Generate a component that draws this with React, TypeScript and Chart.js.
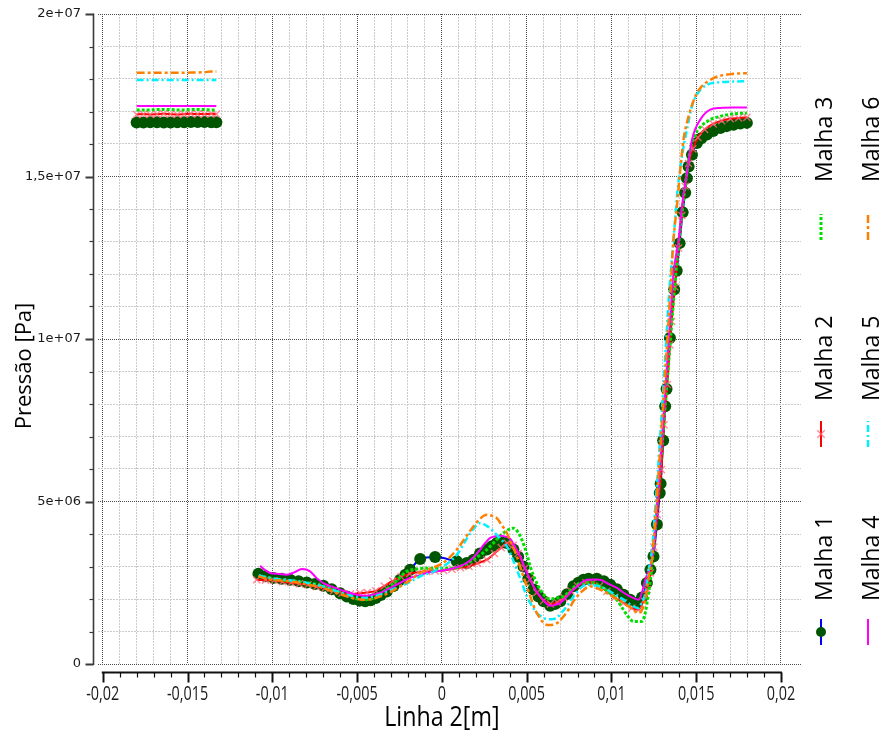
import React, { useEffect, useRef } from "react";
import { Chart, registerables } from "chart.js";

Chart.register(...registerables);

// Position along "Linha 2" in mm, pressure in MPa (converted to m / Pa when the datasets are built)
const upstreamX = [-18.0, -17.6, -17.2, -16.8, -16.4, -16.0, -15.6, -15.2, -14.8, -14.4, -14.0, -13.6, -13.3];

const malha1Up = [16.66, 16.66, 16.67, 16.67, 16.66, 16.66, 16.67, 16.67, 16.68, 16.68, 16.68, 16.67, 16.67];
const malha2Up = [16.91, 16.92, 16.91, 16.92, 16.93, 16.92, 16.91, 16.92, 16.93, 16.92, 16.92, 16.93, 16.92];
const malha3Up = [17.05, 17.05, 17.05, 17.06, 17.06, 17.06, 17.05, 17.05, 17.06, 17.06, 17.06, 17.05, 17.05];
const malha4Up = [17.17, 17.17, 17.17, 17.17, 17.17, 17.17, 17.17, 17.17, 17.17, 17.17, 17.17, 17.17, 17.17];
const malha5Up = [17.97, 17.97, 17.97, 17.97, 17.97, 17.97, 17.97, 17.97, 17.97, 17.97, 17.97, 17.97, 17.97];
const malha6Up = [18.19, 18.19, 18.19, 18.19, 18.19, 18.19, 18.19, 18.19, 18.2, 18.2, 18.21, 18.23, 18.23];

const malha1X = [-10.82, -10.4, -9.94, -9.45, -8.95, -8.45, -7.97, -7.48, -6.99, -6.5, -6.0, -5.6, -5.22, -4.85, -4.52, -4.2, -3.9, -3.6, -3.25, -2.85, -2.46, -2.15, -1.87, -1.28, -0.4, 0.88, 1.47, 1.86, 2.25, 2.65, 2.95, 3.24, 3.55, 3.83, 4.22, 4.5, 4.81, 5.1, 5.4, 5.7, 6.0, 6.39, 6.7, 6.98, 7.38, 7.76, 8.05, 8.35, 8.65, 9.14, 9.55, 9.93, 10.32, 10.71, 11.1, 11.5, 11.8, 12.09, 12.3, 12.48, 12.68, 12.85, 12.9, 13.05, 13.17, 13.25, 13.45, 13.7, 13.85, 14.02, 14.2, 14.35, 14.45, 14.55, 14.75, 15.04, 15.3, 15.63, 16.0, 16.42, 16.8, 17.2, 17.6, 17.99];
const malha1P = [2.78, 2.7, 2.65, 2.62, 2.59, 2.55, 2.51, 2.46, 2.41, 2.3, 2.18, 2.08, 2.0, 1.95, 1.93, 1.96, 2.03, 2.12, 2.23, 2.4, 2.59, 2.75, 2.9, 3.23, 3.29, 3.16, 3.11, 3.21, 3.4, 3.52, 3.62, 3.72, 3.74, 3.72, 3.52, 3.3, 3.0, 2.62, 2.29, 2.08, 1.93, 1.79, 1.85, 1.93, 2.15, 2.39, 2.5, 2.59, 2.62, 2.62, 2.55, 2.44, 2.3, 2.13, 1.98, 1.88, 2.05, 2.49, 2.9, 3.31, 4.29, 5.26, 5.55, 6.88, 7.93, 8.46, 10.03, 11.52, 12.1, 12.95, 13.9, 14.5, 14.95, 15.31, 15.67, 16.03, 16.18, 16.29, 16.4, 16.49, 16.55, 16.59, 16.63, 16.65];

const malha2X = [-10.92, -10.4, -9.9, -9.4, -8.9, -8.4, -7.9, -7.4, -6.9, -6.4, -5.9, -5.4, -4.83, -4.4, -3.9, -3.4, -2.9, -2.4, -1.9, -1.4, -0.9, -0.4, 0.1, 0.6, 1.1, 1.6, 2.1, 2.65, 3.1, 3.5, 3.85, 4.2, 4.5, 4.9, 5.2, 5.6, 6.0, 6.4, 6.8, 7.2, 7.6, 8.0, 8.5, 8.9, 9.3, 9.73, 10.2, 10.71, 11.2, 11.6, 11.9, 12.1, 12.3, 12.5, 12.7, 12.95, 13.1, 13.3, 13.45, 13.55, 13.75, 13.95, 14.15, 14.35, 14.55, 14.8, 15.1, 15.5, 16.0, 16.5, 17.0, 17.5, 17.99];
const malha2P = [2.59, 2.58, 2.57, 2.53, 2.5, 2.47, 2.44, 2.38, 2.33, 2.25, 2.18, 2.15, 2.18, 2.2, 2.25, 2.4, 2.55, 2.68, 2.78, 2.82, 2.85, 2.86, 2.88, 2.92, 2.96, 3.0, 3.1, 3.21, 3.4, 3.58, 3.72, 3.65, 3.4, 2.95, 2.6, 2.2, 1.95, 1.85, 1.9, 2.05, 2.25, 2.4, 2.5, 2.5, 2.4, 2.23, 2.05, 1.88, 1.72, 1.67, 1.95, 2.29, 2.8, 3.6, 4.6, 5.98, 7.36, 8.6, 9.82, 10.54, 11.6, 12.8, 13.8, 14.7, 15.4, 15.85, 16.2, 16.45, 16.62, 16.72, 16.78, 16.8, 16.82];

const malha3X = [-10.8, -10.0, -9.0, -8.0, -7.0, -6.0, -5.2, -4.6, -4.0, -3.4, -2.8, -2.07, -1.5, -0.89, 0.0, 0.68, 1.3, 1.86, 2.5, 3.04, 3.63, 4.22, 4.5, 4.72, 5.0, 5.21, 5.5, 5.8, 6.1, 6.39, 6.8, 7.17, 7.6, 7.96, 8.45, 8.94, 9.45, 9.93, 10.35, 10.71, 11.0, 11.3, 11.8, 12.19, 12.48, 12.7, 12.9, 13.1, 13.3, 13.5, 13.7, 13.9, 14.1, 14.3, 14.45, 14.65, 14.94, 15.24, 15.83, 16.42, 17.2, 17.99];
const malha3P = [2.72, 2.62, 2.57, 2.5, 2.4, 2.2, 2.03, 1.98, 2.03, 2.25, 2.5, 2.85, 2.92, 2.95, 2.95, 2.95, 3.05, 3.21, 3.45, 3.72, 4.03, 4.18, 4.05, 3.82, 3.4, 3.0, 2.6, 2.29, 2.08, 2.0, 2.03, 2.08, 2.28, 2.44, 2.5, 2.49, 2.35, 2.18, 1.95, 1.67, 1.45, 1.31, 1.31, 2.18, 3.52, 4.9, 6.2, 7.5, 8.8, 10.1, 11.4, 12.6, 13.6, 14.5, 15.1, 15.83, 16.29, 16.52, 16.75, 16.85, 16.93, 16.95];

const malha4X = [-10.72, -10.4, -10.13, -9.6, -9.15, -8.7, -8.26, -7.77, -7.4, -6.99, -6.5, -6.0, -5.5, -5.02, -4.5, -4.04, -3.5, -3.05, -2.45, -1.87, -1.4, -0.89, -0.3, 0.29, 0.9, 1.47, 1.9, 2.26, 2.55, 2.85, 3.15, 3.44, 3.75, 4.03, 4.3, 4.62, 4.9, 5.21, 5.5, 5.8, 6.1, 6.39, 6.7, 6.98, 7.38, 7.76, 8.15, 8.55, 8.95, 9.33, 9.8, 10.32, 10.7, 11.1, 11.6, 12.0, 12.48, 12.7, 12.9, 13.1, 13.3, 13.5, 13.66, 13.96, 14.16, 14.45, 14.75, 15.24, 15.83, 16.42, 17.2, 17.99];
const malha4P = [3.02, 2.88, 2.8, 2.77, 2.75, 2.82, 2.92, 2.85, 2.65, 2.49, 2.38, 2.29, 2.2, 2.13, 2.1, 2.13, 2.22, 2.34, 2.5, 2.65, 2.72, 2.8, 2.85, 2.9, 2.98, 3.11, 3.3, 3.52, 3.72, 3.88, 3.93, 3.95, 3.92, 3.85, 3.62, 3.31, 2.95, 2.59, 2.3, 2.08, 1.9, 1.79, 1.82, 1.88, 2.08, 2.29, 2.47, 2.59, 2.6, 2.59, 2.47, 2.34, 2.2, 2.08, 1.98, 2.59, 3.52, 4.9, 6.3, 7.8, 9.4, 10.9, 12.03, 13.05, 14.08, 15.1, 16.13, 16.75, 17.06, 17.11, 17.12, 17.12];

const malha5X = [-10.8, -10.0, -9.0, -8.0, -7.0, -6.0, -5.2, -4.62, -4.0, -3.64, -3.0, -2.46, -1.8, -1.28, -0.6, -0.1, 0.4, 0.88, 1.4, 1.85, 2.25, 2.65, 3.04, 3.45, 3.83, 4.12, 4.42, 4.72, 5.01, 5.3, 5.59, 5.9, 6.19, 6.5, 6.77, 7.06, 7.36, 7.8, 8.2, 8.55, 8.95, 9.35, 9.73, 10.2, 10.71, 11.2, 11.6, 11.8, 12.0, 12.2, 12.39, 12.6, 12.8, 13.0, 13.2, 13.4, 13.66, 13.9, 14.16, 14.45, 14.75, 15.04, 15.63, 16.42, 17.2, 17.99];
const malha5P = [2.72, 2.64, 2.58, 2.5, 2.38, 2.2, 2.08, 2.03, 2.08, 2.13, 2.28, 2.39, 2.55, 2.7, 2.82, 2.95, 3.12, 3.36, 3.8, 4.15, 4.34, 4.25, 4.08, 3.85, 3.62, 3.3, 2.9, 2.5, 2.08, 1.8, 1.57, 1.45, 1.38, 1.38, 1.42, 1.58, 1.77, 2.1, 2.35, 2.44, 2.42, 2.38, 2.29, 2.14, 1.98, 1.8, 1.72, 1.9, 2.18, 2.9, 3.52, 4.9, 6.4, 8.0, 9.7, 11.4, 13.05, 14.59, 15.62, 16.44, 17.16, 17.52, 17.82, 17.9, 17.92, 17.93];

const malha6X = [-10.82, -10.2, -9.5, -8.95, -8.0, -6.99, -6.3, -5.6, -5.0, -4.62, -4.1, -3.64, -3.0, -2.46, -1.8, -1.28, -0.6, -0.1, 0.4, 0.88, 1.4, 1.86, 2.25, 2.65, 3.0, 3.24, 3.5, 3.83, 4.1, 4.42, 4.7, 5.01, 5.3, 5.5, 5.8, 6.0, 6.3, 6.58, 6.9, 7.17, 7.5, 7.76, 8.2, 8.75, 9.2, 9.73, 10.2, 10.71, 11.2, 11.6, 12.0, 12.2, 12.39, 12.55, 12.7, 12.9, 13.1, 13.3, 13.47, 13.66, 13.86, 14.06, 14.25, 14.55, 14.94, 15.24, 16.02, 17.01, 17.99];
const malha6P = [2.7, 2.6, 2.57, 2.54, 2.45, 2.34, 2.2, 2.08, 2.0, 1.98, 2.0, 2.08, 2.22, 2.39, 2.6, 2.8, 2.95, 3.06, 3.25, 3.52, 3.9, 4.23, 4.47, 4.59, 4.55, 4.49, 4.3, 4.03, 3.7, 3.31, 2.85, 2.39, 1.95, 1.67, 1.4, 1.26, 1.2, 1.21, 1.3, 1.46, 1.7, 1.93, 2.2, 2.39, 2.32, 2.18, 2.03, 1.88, 1.7, 1.57, 1.98, 2.7, 3.21, 4.2, 5.3, 6.8, 8.4, 10.0, 11.4, 13.05, 14.08, 15.21, 16.13, 16.85, 17.46, 17.72, 18.03, 18.15, 18.18];

const seriesNames = ["Malha 1", "Malha 2", "Malha 3", "Malha 4", "Malha 5", "Malha 6"];

const xTickValues = [-0.02, -0.015, -0.01, -0.005, 0, 0.005, 0.01, 0.015, 0.02];
const xTickLabels = ["-0,02", "-0,015", "-0,01", "-0,005", "0", "0,005", "0,01", "0,015", "0,02"];
const yTickValues = [0, 5e6, 1e7, 1.5e7, 2e7];
const yTickLabels = ["0", "5e+06", "1e+07", "1,5e+07", "2e+07"];
const xMinorStep = 0.001;
const yMinorStep = 1e6;

const xTitle = "Linha 2[m]";
const yTitle = "Pressão [Pa]";

const X_MIN = -0.02028;
const X_MAX = 0.02118;
const Y_MIN = 0;
const Y_MAX = 2e7;

type Pt = { x: number; y: number | null };

function buildSeries(up: number[], xs: number[], ps: number[]): Pt[] {
  const pts: Pt[] = upstreamX.map((x, i) => ({ x: x * 1e-3, y: up[i] * 1e6 }));
  pts.push({ x: -12.5e-3, y: null });
  xs.forEach((x, i) => pts.push({ x: x * 1e-3, y: ps[i] * 1e6 }));
  return pts;
}

function minorValues(lo: number, hi: number, step: number): number[] {
  const out: number[] = [];
  const n = Math.round((hi - lo) / step);
  for (let k = 0; k <= n; k++) out.push(lo + k * step);
  return out;
}

const xGrid = minorValues(xTickValues[0], xTickValues[xTickValues.length - 1], xMinorStep);
const yGrid = minorValues(yTickValues[0], yTickValues[yTickValues.length - 1], yMinorStep);

const isMajor = (v: number, majors: number[], step: number) =>
  majors.some((m) => Math.abs(m - v) < step * 0.01);

const GRID_MAJOR = "rgba(70,70,70,0.95)";
const GRID_MINOR = "rgba(200,200,200,0.95)";
const TEXT = "#1a1a1a";

function compressedText(ctx: CanvasRenderingContext2D, text: string, x: number, y: number, sx: number) {
  ctx.save();
  ctx.translate(x, y);
  ctx.scale(sx, 1);
  ctx.fillText(text, 0, 0);
  ctx.restore();
}

const axesPlugin = {
  id: "axesDecor",
  afterDraw(chart: any) {
    const { ctx } = chart;
    const xs = chart.scales.x;
    const ys = chart.scales.y;
    ctx.save();

    // vertical axis, detached from the plot area
    const axX = 93.5;
    const yTop = ys.getPixelForValue(Y_MAX);
    const yBot = ys.getPixelForValue(Y_MIN);
    ctx.strokeStyle = "#3a3a3a";
    ctx.lineWidth = 1.6;
    ctx.beginPath();
    ctx.moveTo(axX, yTop - 0.5);
    ctx.lineTo(axX, yBot + 1);
    ctx.stroke();
    yGrid.forEach((v) => {
      const py = Math.round(ys.getPixelForValue(v)) + 0.5;
      const major = isMajor(v, yTickValues, yMinorStep);
      ctx.lineWidth = major ? 2 : 1.2;
      ctx.beginPath();
      ctx.moveTo(axX - (major ? 8 : 4), py);
      ctx.lineTo(axX, py);
      ctx.stroke();
    });
    ctx.fillStyle = TEXT;
    ctx.font = '13px "DejaVu Sans"';
    ctx.textAlign = "right";
    ctx.textBaseline = "middle";
    yTickValues.forEach((v, i) => {
      ctx.fillText(yTickLabels[i], 81, ys.getPixelForValue(v));
    });

    // horizontal axis, detached below the plot area
    const axY = 672.5;
    const xl = xs.getPixelForValue(xTickValues[0]);
    const xr = xs.getPixelForValue(xTickValues[xTickValues.length - 1]);
    ctx.strokeStyle = "#111";
    ctx.lineWidth = 2.2;
    ctx.beginPath();
    ctx.moveTo(xl - 1, axY);
    ctx.lineTo(xr + 1, axY);
    ctx.stroke();
    xGrid.forEach((v) => {
      const px = Math.round(xs.getPixelForValue(v)) + 0.5;
      const major = isMajor(v, xTickValues, xMinorStep);
      ctx.lineWidth = major ? 2 : 1.2;
      ctx.beginPath();
      ctx.moveTo(px, axY);
      ctx.lineTo(px, axY + (major ? 10 : 5));
      ctx.stroke();
    });
    ctx.font = '20px "Open Sans"';
    ctx.textAlign = "center";
    ctx.textBaseline = "alphabetic";
    xTickValues.forEach((v, i) => {
      compressedText(ctx, xTickLabels[i], xs.getPixelForValue(v), 700, 0.72);
    });

    // axis titles
    ctx.fillStyle = "#000";
    ctx.font = '27px "Open Sans"';
    compressedText(ctx, xTitle, xs.getPixelForValue(0), 726, 0.86);

    ctx.font = '22px "Open Sans"';
    ctx.save();
    ctx.translate(31, 366);
    ctx.rotate(-Math.PI / 2);
    ctx.textAlign = "center";
    ctx.textBaseline = "alphabetic";
    ctx.fillText(yTitle, 0, 0);
    ctx.restore();

    // legend: two columns of rotated entries, sample line below each name
    const colBase = [832, 879];
    const colSym = [821, 868];
    const rowSymBottom = [645, 447, 240];
    const rowTextBottom = [601, 401, 182];
    chart.data.datasets.forEach((ds: any, i: number) => {
      const col = i < 3 ? 0 : 1;
      const row = i % 3;
      const sx = colSym[col];
      const y0 = rowSymBottom[row];
      const len = 26;
      ctx.save();
      ctx.strokeStyle = ds.borderColor;
      ctx.lineWidth = ds.borderWidth;
      ctx.setLineDash(ds.borderDash || []);
      ctx.beginPath();
      ctx.moveTo(sx, y0);
      ctx.lineTo(sx, y0 - len);
      ctx.stroke();
      ctx.setLineDash([]);
      const my = y0 - len / 2;
      if (ds.pointStyle === "circle" && ds.pointRadius > 0) {
        ctx.fillStyle = ds.pointBackgroundColor;
        ctx.beginPath();
        ctx.arc(sx, my, 5, 0, Math.PI * 2);
        ctx.fill();
      } else if (ds.pointStyle === "crossRot" && ds.pointRadius > 0) {
        const r = ds.pointRadius * 0.75;
        ctx.strokeStyle = ds.pointBorderColor;
        ctx.lineWidth = ds.pointBorderWidth;
        ctx.beginPath();
        ctx.moveTo(sx - r, my - r);
        ctx.lineTo(sx + r, my + r);
        ctx.moveTo(sx + r, my - r);
        ctx.lineTo(sx - r, my + r);
        ctx.stroke();
      }
      ctx.restore();

      ctx.save();
      ctx.translate(colBase[col], rowTextBottom[row]);
      ctx.rotate(-Math.PI / 2);
      ctx.fillStyle = "#000";
      ctx.font = '23px "Open Sans"';
      ctx.textAlign = "left";
      ctx.textBaseline = "alphabetic";
      ctx.fillText(seriesNames[i], 0, 0);
      ctx.restore();
    });

    ctx.restore();
  },
};

export default function App() {
  const canvasRef = useRef<HTMLCanvasElement | null>(null);

  useEffect(() => {
    const canvas = canvasRef.current;
    if (!canvas) return;

    const common = {
      showLine: true,
      fill: false,
      spanGaps: false,
      cubicInterpolationMode: "monotone" as const,
    };

    const chart = new Chart(canvas, {
      type: "scatter",
      data: {
        datasets: [
          {
            ...common,
            label: seriesNames[0],
            data: buildSeries(malha1Up, malha1X, malha1P),
            borderColor: "#0000ff",
            borderWidth: 2,
            pointStyle: "circle",
            pointRadius: 6,
            pointBackgroundColor: "#005500",
            pointBorderColor: "#005500",
            pointBorderWidth: 0,
            order: 6,
          },
          {
            ...common,
            label: seriesNames[1],
            data: buildSeries(malha2Up, malha2X, malha2P),
            borderColor: "#ff0000",
            borderWidth: 2,
            pointStyle: "crossRot",
            pointRadius: 5,
            pointBorderColor: "rgba(255,105,125,0.8)",
            pointBorderWidth: 1.4,
            order: 5,
          },
          {
            ...common,
            label: seriesNames[2],
            data: buildSeries(malha3Up, malha3X, malha3P),
            borderColor: "#00e000",
            borderWidth: 3,
            borderDash: [3, 2],
            pointRadius: 0,
            order: 4,
          },
          {
            ...common,
            label: seriesNames[3],
            data: buildSeries(malha4Up, malha4X, malha4P),
            borderColor: "#ff00ff",
            borderWidth: 2,
            pointRadius: 0,
            order: 3,
          },
          {
            ...common,
            label: seriesNames[4],
            data: buildSeries(malha5Up, malha5X, malha5P),
            borderColor: "#00f0ff",
            borderWidth: 2.5,
            borderDash: [7, 3, 2, 3],
            pointRadius: 0,
            order: 2,
          },
          {
            ...common,
            label: seriesNames[5],
            data: buildSeries(malha6Up, malha6X, malha6P),
            borderColor: "#ff8000",
            borderWidth: 2.5,
            borderDash: [8, 3, 3, 3],
            pointRadius: 0,
            order: 1,
          },
        ],
      },
      options: {
        animation: false,
        responsive: false,
        devicePixelRatio: 1,
        events: [],
        layout: { padding: { left: 98, right: 84, top: 14, bottom: 67 } },
        plugins: { legend: { display: false }, tooltip: { enabled: false } },
        scales: {
          x: {
            type: "linear",
            min: X_MIN,
            max: X_MAX,
            afterBuildTicks: (s: any) => {
              s.ticks = xGrid.map((v) => ({ value: v }));
            },
            ticks: { display: false },
            border: {
              display: false,
              dash: (c: any) => (isMajor(c.tick?.value ?? 0, xTickValues, xMinorStep) ? [1, 1] : [2, 1]),
            },
            grid: {
              drawTicks: false,
              lineWidth: 1,
              color: (c: any) =>
                isMajor(c.tick?.value ?? 0, xTickValues, xMinorStep) ? GRID_MAJOR : GRID_MINOR,
            },
          },
          y: {
            type: "linear",
            min: Y_MIN,
            max: Y_MAX,
            afterBuildTicks: (s: any) => {
              s.ticks = yGrid.map((v) => ({ value: v }));
            },
            ticks: { display: false },
            border: {
              display: false,
              dash: (c: any) => (isMajor(c.tick?.value ?? 0, yTickValues, yMinorStep) ? [1, 1] : [2, 1]),
            },
            grid: {
              drawTicks: false,
              lineWidth: 1,
              color: (c: any) =>
                isMajor(c.tick?.value ?? 0, yTickValues, yMinorStep) ? GRID_MAJOR : GRID_MINOR,
            },
          },
        },
      },
      plugins: [axesPlugin],
    } as any);

    return () => chart.destroy();
  }, []);

  return (
    <div style={{ position: "fixed", left: 0, top: 0, width: 885, height: 731, background: "#fff" }}>
      <canvas ref={canvasRef} width={885} height={731} style={{ width: 885, height: 731, display: "block" }} />
    </div>
  );
}
